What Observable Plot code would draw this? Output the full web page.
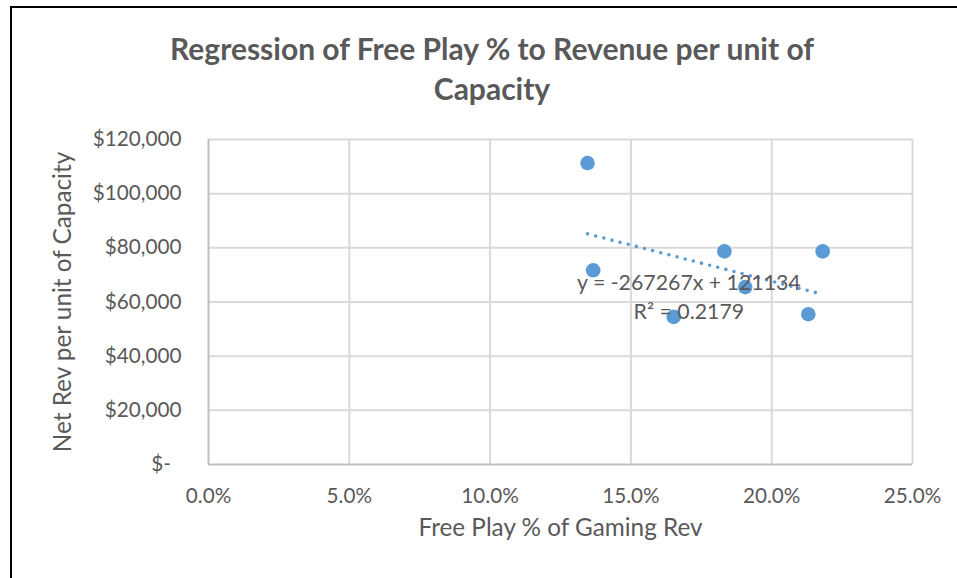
<!DOCTYPE html>
<html>
<head>
<meta charset="utf-8">
<script src="https://cdn.jsdelivr.net/npm/d3@7"></script>
<script src="https://cdn.jsdelivr.net/npm/@observablehq/plot@0.6"></script>
<style>
  html, body { margin: 0; padding: 0; background: #fff; width: 957px; height: 578px; overflow: hidden; }
  #frame { position: absolute; left: 10px; top: 6px; width: 1000px; height: 700px; border-left: 2px solid #000; border-top: 2px solid #000; box-sizing: border-box; }
  #title { position: absolute; left: 0; top: 28px; width: 984px; text-align: center; font-family: Lato, sans-serif; font-weight: bold; font-size: 30px; line-height: 40px; color: #595959; }
  #chart { position: absolute; left: 0; top: 120px; }
</style>
</head>
<body>
<div id="frame"></div>
<div id="title">Regression of Free Play % to Revenue per unit of<br>Capacity</div>
<div id="chart"></div>
<script>
// Data
const freePlayPct = [0.1346, 0.1366, 0.1652, 0.1832, 0.1906, 0.2130, 0.2181];
const netRevPerCapacity = [111300, 71700, 54500, 78700, 65500, 55500, 78700];
const xTicks = [0, 0.05, 0.10, 0.15, 0.20, 0.25];
const yTicks = [0, 20000, 40000, 60000, 80000, 100000, 120000];
const trendSlope = -267267;
const trendIntercept = 121134;
const trendR2 = "0.2179";
const xLabel = "Free Play % of Gaming Rev";
const yLabel = "Net Rev per unit of Capacity";

const points = freePlayPct.map((x, i) => ({x, y: netRevPerCapacity[i]}));
const xExt = d3.extent(freePlayPct);
const trend = xExt.map(x => ({x, y: trendIntercept + trendSlope * x}));
const meanX = d3.mean(freePlayPct);
const eqText = [{x: meanX, y: trendIntercept + trendSlope * meanX,
  label: `y = ${trendSlope}x + ${trendIntercept}\nR² = ${trendR2}`}];

const blue = "#5B9BD5";
const grid = "#D9D9D9";
const axisColor = "#BFBFBF";
const textColor = "#595959";

const chart = Plot.plot({
  width: 957,
  height: 440,
  marginTop: 19,
  marginBottom: 96,
  marginLeft: 208,
  marginRight: 45,
  style: {fontFamily: "Lato, sans-serif", fontSize: "20.7px", color: textColor, background: "transparent", overflow: "visible"},
  x: {domain: [0, 0.25], ticks: xTicks, tickFormat: d => (d * 100).toFixed(1) + "%", label: null, tickSize: 0, tickPadding: 24},
  y: {domain: [0, 120000], ticks: yTicks, tickFormat: d => d === 0 ? "$-\u00A0\u00A0" : "$" + d3.format(",")(d), label: null, tickSize: 0, tickPadding: 27},
  marks: [
    Plot.ruleX(xTicks.filter(d => d > 0), {stroke: grid, strokeWidth: 2}),
    Plot.ruleY(yTicks.filter(d => d > 0), {stroke: grid, strokeWidth: 2}),
    Plot.ruleX([0], {stroke: axisColor, strokeWidth: 2}),
    Plot.ruleY([0], {stroke: axisColor, strokeWidth: 2}),
    Plot.dot(points, {x: "x", y: "y", r: 7.3, fill: blue, stroke: "none"}),
    Plot.line(trend, {x: "x", y: "y", stroke: blue, strokeWidth: 3.6, strokeDasharray: "0 8.4", strokeLinecap: "round"}),
    Plot.text(eqText, {x: "x", y: "y", text: "label", dx: -19, dy: 30, fontSize: 21.3, lineHeight: 1.375, fill: textColor, textAnchor: "middle"}),
    Plot.text([xLabel], {frameAnchor: "bottom", dy: 71, fontSize: 24.3, fill: textColor}),
    Plot.text([yLabel], {frameAnchor: "left", dx: -145, rotate: -90, textAnchor: "middle", fontSize: 24.3, fill: textColor})
  ]
});
document.getElementById("chart").appendChild(chart);
</script>
</body>
</html>
